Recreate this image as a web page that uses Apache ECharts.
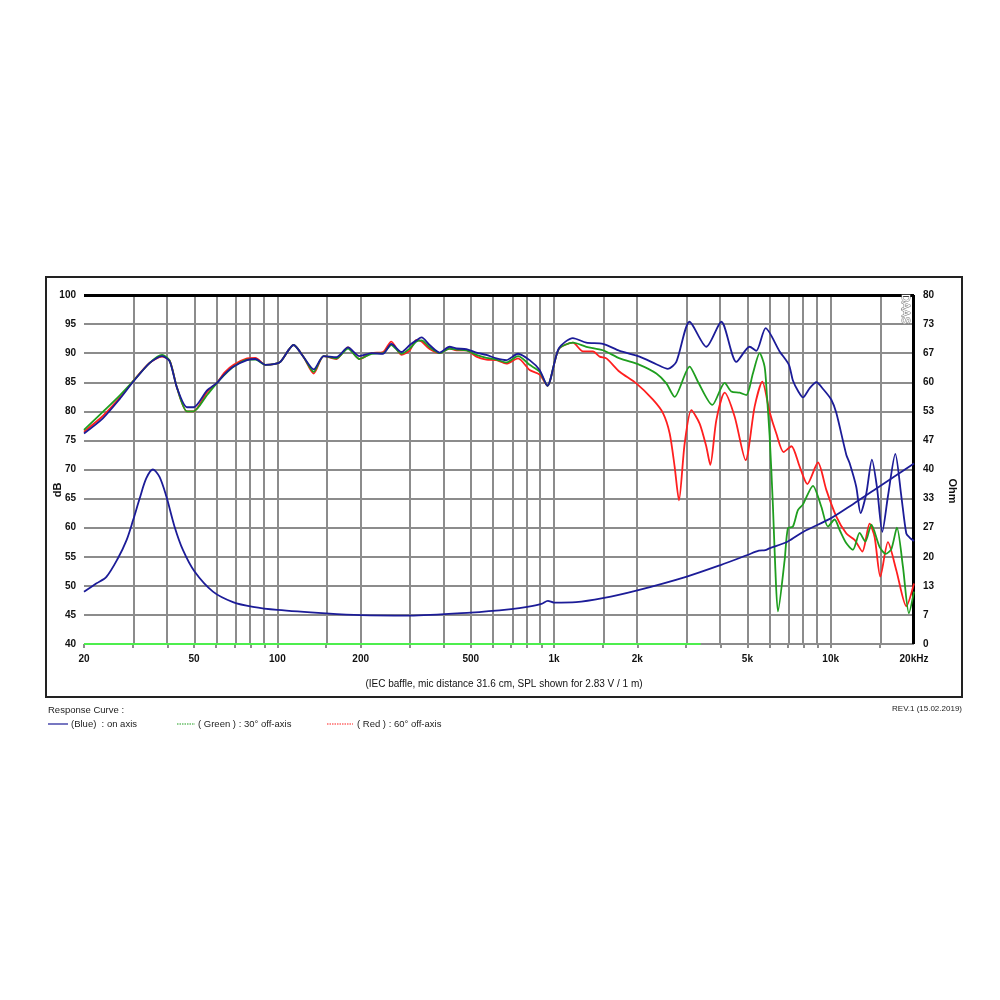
<!DOCTYPE html>
<html>
<head>
<meta charset="utf-8">
<script src="https://cdn.jsdelivr.net/npm/echarts@6/dist/echarts.min.js"></script>
<style>html,body{margin:0;padding:0;background:#fff;}#c{width:1000px;height:1000px;}</style>
</head>
<body>
<div id="c"></div>
<script>
// ---------- data ----------
const lowFreq = [20, 23.4, 26.9, 30, 34.5, 38.3, 40.8, 43.4, 47.1, 49.8, 55.7, 60.5, 64.5, 69.5, 77.7, 83.3, 90.5, 97, 102.5, 114.5, 124.5, 135.3, 147, 163.4, 180, 198, 219, 241, 258, 281, 301, 318, 332, 355, 386, 419, 444, 482, 524, 569, 619, 672, 741, 816, 887, 946];
const blueLowDb = [76.2, 78.8, 82.1, 85.0, 88.3, 89.5, 88.6, 84.0, 80.7, 80.7, 83.6, 84.9, 86.4, 87.7, 88.8, 89.0, 88.0, 88.1, 88.5, 91.4, 89.3, 87.2, 89.5, 89.3, 91.0, 89.5, 90.0, 89.9, 91.6, 90.2, 91.4, 92.2, 92.7, 91.4, 90.1, 91.1, 90.8, 90.7, 90.1, 89.7, 89.1, 88.8, 89.9, 88.8, 87.1, 84.4];
const greenLowDb = [76.8, 79.9, 82.7, 85.1, 88.3, 89.7, 88.7, 84.0, 80.0, 80.0, 82.8, 84.9, 86.3, 87.7, 88.9, 88.9, 88.0, 88.1, 88.5, 91.4, 89.3, 86.8, 89.5, 89.1, 90.8, 89.0, 89.9, 90.0, 91.4, 89.9, 90.8, 92.0, 92.2, 91.0, 90.0, 90.8, 90.6, 90.5, 89.7, 89.2, 88.9, 88.4, 89.5, 88.0, 86.8, 84.4];
const redLowDb = [76.5, 79.2, 82.3, 85.1, 88.3, 89.4, 88.7, 84.0, 80.0, 80.0, 83.3, 84.9, 86.7, 88.0, 89.1, 89.2, 88.0, 88.1, 88.5, 91.4, 89.3, 86.5, 89.5, 89.0, 91.0, 89.0, 90.0, 90.2, 92.0, 89.7, 90.5, 92.3, 92.0, 90.7, 90.0, 90.8, 90.5, 90.5, 89.4, 88.9, 88.8, 88.2, 89.1, 87.1, 86.3, 84.4];

const blueHighFreq = [1040, 1170, 1308, 1502, 1726, 2038, 2343, 2580, 2766, 3090, 3552, 4024, 4560, 5093, 5383, 5818, 6536, 7062, 7300, 7620, 7936, 8400, 8872, 9400, 10050, 10480, 11390, 11700, 12370, 12820, 13450, 14090, 14690, 15360, 16100, 17120, 18000, 18760, 19280, 20000];
const blueHighDb = [90.8, 92.6, 91.8, 91.6, 90.4, 89.4, 88.1, 87.3, 88.5, 95.4, 91.1, 95.4, 88.5, 91.1, 90.4, 94.3, 90.3, 88.0, 85.3, 83.5, 82.4, 84.0, 85.0, 83.8, 82.0, 79.7, 72.5, 71.1, 67.0, 62.5, 65.9, 71.7, 67.0, 59.3, 65.4, 72.7, 65.4, 59.0, 58.3, 57.7];

const greenHighFreq = [1040, 1172, 1308, 1502, 1726, 2038, 2343, 2546, 2728, 3090, 3311, 3733, 4137, 4373, 4686, 4954, 5233, 5534, 5768, 5875, 6014, 6180, 6306, 6444, 6814, 7004, 7302, 7612, 7936, 8624, 9248, 9769, 10330, 10770, 11390, 12030, 12720, 13340, 14020, 15020, 15790, 16560, 17350, 18240, 19170, 20000];
const greenHighDb = [90.7, 91.8, 91.1, 90.5, 89.1, 88.0, 86.5, 84.8, 82.5, 87.7, 85.1, 81.1, 84.9, 83.4, 83.2, 82.8, 86.5, 90.0, 87.7, 83.0, 75.8, 63.9, 53.0, 45.6, 54.4, 59.9, 60.2, 63.0, 64.0, 67.2, 63.6, 60.2, 61.4, 59.6, 57.3, 56.2, 59.1, 57.6, 60.5, 56.7, 55.5, 56.3, 60.0, 53.3, 45.3, 49.0];

const redHighFreq = [1040, 1170, 1272, 1382, 1462, 1546, 1726, 1983, 2278, 2476, 2618, 2728, 2828, 2966, 3135, 3359, 3552, 3671, 3860, 4137, 4494, 4926, 5309, 5661, 6014, 6359, 6758, 7208, 7723, 8232, 8992, 9640, 10480, 11390, 12200, 13010, 13820, 14410, 15110, 16100, 17260, 18760, 20000];
const redHighDb = [90.7, 91.8, 90.3, 90.3, 89.4, 89.1, 86.8, 84.8, 82.0, 79.7, 76.2, 70.5, 64.7, 74.5, 80.2, 77.9, 73.9, 70.8, 78.5, 83.2, 79.1, 71.6, 80.8, 85.1, 79.9, 76.2, 73.0, 74.0, 70.5, 67.5, 71.2, 66.5, 61.9, 59.0, 57.9, 55.9, 60.7, 58.4, 51.6, 57.5, 52.7, 46.5, 50.4];

const impFreq = [20, 22.2, 24.1, 26.5, 28.5, 30.1, 31.8, 33.6, 35.5, 37.5, 39.7, 42.5, 45.6, 50.2, 58.5, 69.1, 81.6, 100, 150, 200, 300, 500, 700, 800, 900, 950, 1000, 1200, 1500, 2000, 3000, 4000, 5000, 5500, 5800, 6000, 7000, 8000, 10000, 12000, 15000, 20000];
const impOhm = [12.0, 13.9, 15.4, 19.6, 23.8, 28.4, 33.4, 38.0, 40.0, 38.3, 33.8, 26.9, 21.5, 16.6, 12.0, 9.6, 8.5, 7.8, 7.0, 6.6, 6.5, 7.2, 8.0, 8.5, 9.2, 9.9, 9.5, 9.6, 10.5, 12.3, 15.4, 18.1, 20.4, 21.4, 21.5, 21.9, 23.5, 25.8, 28.8, 32.0, 36.1, 41.4];

const baseFreq = [20, 3390];
const baseDb = [40, 40];

const gridFreq = [20, 30, 40, 50, 60, 70, 80, 90, 100, 150, 200, 300, 400, 500, 600, 700, 800, 900, 1000, 1500, 2000, 3000, 4000, 5000, 6000, 7000, 8000, 9000, 10000, 15000];
const xTickFreq = [20, 50, 100, 200, 500, 1000, 2000, 5000, 10000, 20000];
const xTickLabels = ['20', '50', '100', '200', '500', '1k', '2k', '5k', '10k', '20kHz'];
const ohmTicks = [0, 1, 2, 3, 4, 5, 6, 7, 8, 9, 10, 11, 12];

// ---------- build ----------
const L = Math.log10;
const pts = (fs, vs) => fs.map((f, i) => [L(f), vs[i]]);
const blueData = pts(lowFreq.concat(blueHighFreq), blueLowDb.concat(blueHighDb));
const greenData = pts(lowFreq.concat(greenHighFreq), greenLowDb.concat(greenHighDb));
const redData = pts(lowFreq.concat(redHighFreq), redLowDb.concat(redHighDb));
const impData = pts(impFreq, impOhm);
const baseData = pts(baseFreq, baseDb);

const FONT = 'Liberation Sans, Arial, sans-serif';
const GRID = '#8c8c8c';
const BLUE = '#1c1c98', GREEN = '#1f9e1f', RED = '#ff1f1f';

const gridMarks = gridFreq.map(f => ({ xAxis: L(f) }));
gridMarks.push({ xAxis: L(20000), lineStyle: { color: '#000', width: 3 } });
gridMarks.push({ yAxis: 100, lineStyle: { color: '#000', width: 3 } });

const chart = echarts.init(document.getElementById('c'), null, { renderer: 'canvas' });
chart.setOption({
  animation: false,
  backgroundColor: '#fff',
  grid: { left: 84, top: 295, width: 830, height: 349, containLabel: false },
  xAxis: {
    type: 'value', min: L(20), max: L(20000),
    axisLine: { show: false },
    splitLine: { show: false },
    axisTick: { show: true, customValues: gridFreq.map(L), length: 4, lineStyle: { color: GRID, width: 2 } },
    axisLabel: {
      customValues: xTickFreq.map(L), margin: 10,
      fontFamily: FONT, fontSize: 10, fontWeight: 'bold', color: '#111',
      formatter: v => { const i = xTickFreq.findIndex(f => Math.abs(L(f) - v) < 1e-6); return i >= 0 ? xTickLabels[i] : ''; }
    }
  },
  yAxis: [
    {
      type: 'value', min: 40, max: 100, interval: 5,
      axisLine: { show: false }, axisTick: { show: false },
      splitLine: { show: true, lineStyle: { color: GRID, width: 2 } },
      axisLabel: { margin: 8, fontFamily: FONT, fontSize: 10, fontWeight: 'bold', color: '#111' }
    },
    {
      type: 'value', min: 0, max: 80, position: 'right',
      axisLine: { show: false }, axisTick: { show: false },
      splitLine: { show: false },
      axisLabel: {
        customValues: ohmTicks.map(k => k * 80 / 12), margin: 9,
        fontFamily: FONT, fontSize: 10, fontWeight: 'bold', color: '#111',
        formatter: v => String(Math.round(v))
      }
    }
  ],
  series: [
    {
      name: 'base', type: 'line', data: baseData, showSymbol: false, z: 2,
      lineStyle: { color: '#4dee4d', width: 2 },
      markLine: {
        z: 1, silent: true, symbol: ['none', 'none'], animation: false,
        label: { show: false },
        lineStyle: { color: GRID, width: 2, type: 'solid' },
        emphasis: { disabled: true },
        data: gridMarks
      }
    },
    { name: 'Red', type: 'line', data: redData, showSymbol: false, smooth: 0.25, z: 3, lineStyle: { color: RED, width: 1.8 } },
    { name: 'Green', type: 'line', data: greenData, showSymbol: false, smooth: 0.25, z: 4, lineStyle: { color: GREEN, width: 1.8 } },
    { name: 'Blue', type: 'line', data: blueData, showSymbol: false, smooth: 0.25, z: 5, lineStyle: { color: BLUE, width: 1.8 } },
    { name: 'Impedance', type: 'line', yAxisIndex: 1, data: impData, showSymbol: false, smooth: 0.3, z: 5, lineStyle: { color: BLUE, width: 1.8 } }
  ],
  graphic: [
    { type: 'rect', shape: { x: 46, y: 277, width: 916, height: 420 }, style: { fill: 'none', stroke: '#222', lineWidth: 2 }, z: 0 },
    { type: 'text', x: 58, y: 490, rotation: Math.PI / 2, style: { text: 'dB', font: 'bold 11px ' + FONT, fill: '#111', textAlign: 'center', textVerticalAlign: 'middle' } },
    { type: 'text', x: 952, y: 491, rotation: -Math.PI / 2, style: { text: 'Ohm', font: 'bold 11px ' + FONT, fill: '#111', textAlign: 'center', textVerticalAlign: 'middle' } },
    { type: 'text', x: 905, y: 309, rotation: -Math.PI / 2, z: 10, style: { text: 'DAAS', font: '11px ' + FONT, fill: '#fff', stroke: '#777', lineWidth: 1, textAlign: 'center', textVerticalAlign: 'middle' } },
    { type: 'text', x: 504, y: 684, style: { text: '(IEC baffle, mic distance 31.6 cm, SPL shown for 2.83 V / 1 m)', font: '10px ' + FONT, fill: '#111', textAlign: 'center', textVerticalAlign: 'middle' } },
    { type: 'text', x: 48, y: 710, style: { text: 'Response Curve :', font: '9.5px ' + FONT, fill: '#222', textAlign: 'left', textVerticalAlign: 'middle' } },
    { type: 'line', shape: { x1: 48, y1: 724, x2: 68, y2: 724 }, style: { stroke: BLUE, lineWidth: 1.2 } },
    { type: 'text', x: 71, y: 724, style: { text: '(Blue)  : on axis', font: '9.5px ' + FONT, fill: '#222', textAlign: 'left', textVerticalAlign: 'middle' } },
    { type: 'line', shape: { x1: 177, y1: 724, x2: 195, y2: 724 }, style: { stroke: GREEN, lineWidth: 1.2, lineDash: [1.5, 1] } },
    { type: 'text', x: 198, y: 724, style: { text: '( Green ) : 30° off-axis', font: '9.5px ' + FONT, fill: '#222', textAlign: 'left', textVerticalAlign: 'middle' } },
    { type: 'line', shape: { x1: 327, y1: 724, x2: 353, y2: 724 }, style: { stroke: RED, lineWidth: 1.2, lineDash: [1.5, 1] } },
    { type: 'text', x: 357, y: 724, style: { text: '( Red ) : 60° off-axis', font: '9.5px ' + FONT, fill: '#222', textAlign: 'left', textVerticalAlign: 'middle' } },
    { type: 'text', x: 962, y: 709, style: { text: 'REV.1 (15.02.2019)', font: '8px ' + FONT, fill: '#222', textAlign: 'right', textVerticalAlign: 'middle' } }
  ]
});
</script>
</body>
</html>
